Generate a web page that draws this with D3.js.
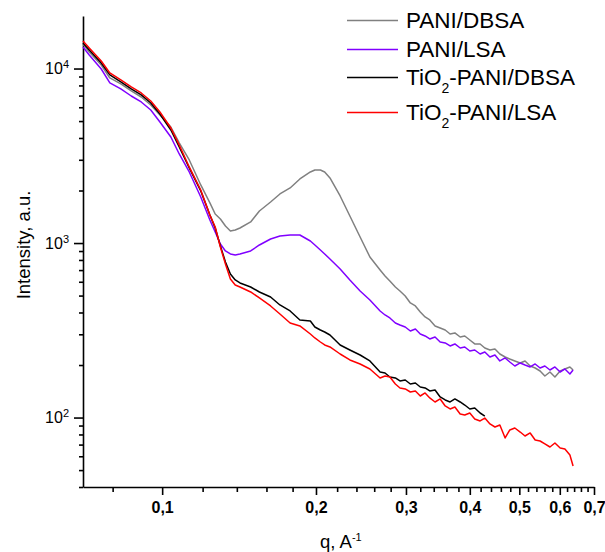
<!DOCTYPE html>
<html>
<head>
<meta charset="utf-8">
<script src="https://cdn.jsdelivr.net/npm/d3@7"></script>
<style>
body { margin: 0; background: #fff; }
svg text { font-family: "Liberation Sans", Arial, sans-serif; fill: #000; }
</style>
</head>
<body>
<div id="chart"></div>
<script>
// q, A^-1
const q = [0.070, 0.072, 0.076, 0.079, 0.083, 0.087, 0.091, 0.095, 0.099, 0.104,
    0.108, 0.113, 0.119, 0.124, 0.127, 0.130, 0.133, 0.136, 0.139, 0.142,
    0.149, 0.155, 0.163, 0.170, 0.178, 0.186, 0.195, 0.199, 0.204, 0.208,
    0.213, 0.223, 0.233, 0.244, 0.255, 0.267, 0.273, 0.279, 0.286, 0.292,
    0.299, 0.306, 0.313, 0.320, 0.327, 0.334, 0.342, 0.350, 0.358, 0.366,
    0.374, 0.383, 0.391, 0.400, 0.409, 0.419, 0.428, 0.438, 0.448, 0.458,
    0.469, 0.479, 0.490, 0.502, 0.513, 0.525, 0.537, 0.549, 0.561, 0.574,
    0.587, 0.601, 0.614, 0.628, 0.637];

const paniDbsa = [13830, 12450, 10480, 8830, 8160, 7440, 6870, 6184, 5419, 4625,
    3750, 2992, 2152, 1700, 1467, 1374, 1252, 1172, 1188, 1220,
    1321, 1527, 1719, 1911, 2068, 2329, 2555, 2623, 2623, 2555,
    2360, 1861, 1429, 1083, 832, 701, 647.5, 606, 560, 531,
    497, 453.5, 436, 402.7, 377, 362.4, 334.9, 326.1, 317.6, 301.2,
    305.3, 289.5, 293.4, 278.3, 264.1, 264.1, 250.4, 243.9, 247.1, 231.3,
    222.3, 216.6, 211, 205.5, 211, 197.5, 192.3, 184.8, 173.1, 182.4,
    170.8, 184.8, 189.8, 194.9, 187.3];

const paniLsa = [13290, 11960, 9940, 8270, 7640, 6960, 6434, 5789, 4942, 4053,
    3239, 2555, 1837, 1356, 1157, 987.7, 900.7, 865.6, 854.3, 865.6,
    900.7, 974.8, 1055, 1097, 1112, 1112, 1027, 974.8, 912.7, 865.6,
    810.5, 710.3, 614.2, 531.2, 471.8, 408.1, 387.1, 372.1, 348.4, 339.3,
    330.4, 313.4, 321.8, 301.2, 293.4, 282, 289.5, 271, 267.6, 257.2,
    264.1, 250.4, 253.8, 240.7, 243.9, 231.3, 237.5, 222.3, 228.3, 211,
    219.5, 208.2, 197.5, 205.5, 200.1, 194.9, 202.8, 192.3, 197.5, 187.3,
    194.9, 182.4, 189.8, 177.7, 187.3];

// black curve stops at q ~ 0.43
const tio2PaniDbsa = [14020, 12780, 10760, 9190, 8380, 7640, 7060, 6350, 5491, 4446,
    3553, 2693, 1988, 1448, 1220, 962, 779, 664.8, 614.2, 590.5,
    560.1, 524.3, 490.8, 441.7, 408.1, 362.4, 357.7, 330.4, 317.6, 309.3,
    297.3, 260.6, 243.9, 228.3, 211, 182.4, 180.1, 170.8, 168.6, 162,
    164.2, 155.7, 157.8, 149.7, 147.8, 142, 143.9, 131.2, 126.1, 122.8,
    127.8, 122.8, 118, 112, 113.5, 106.2, 102];

const tio2PaniLsa = [14390, 13120, 11050, 9430, 8600, 7840, 7245, 6519, 5638, 4565,
    3648, 2729, 2014, 1448, 1236, 949.4, 758.6, 622.4, 575.1, 560.1,
    524.3, 484.4, 435.9, 392.2, 348.4, 334.9, 301.2, 285.8, 271, 260.6,
    253.8, 231.3, 213.8, 202.8, 189.8, 168.6, 173.1, 170.8, 155.7, 147.8,
    145.8, 140.1, 142, 132.9, 138.3, 129.5, 122.8, 127.8, 116.5, 112,
    114.9, 104.8, 103.4, 106.2, 98.1, 95.6, 99.4, 91.9, 88.3, 90.7,
    76.4, 84.9, 87.1, 82.6, 78.4, 81.6, 74.4, 73.4, 70.6, 67.8,
    71.5, 66.9, 66, 61, 52.8];

const seriesNames = ["PANI/DBSA", "PANI/LSA", "TiO2-PANI/DBSA", "TiO2-PANI/LSA"];
const seriesValues = [paniDbsa, paniLsa, tio2PaniDbsa, tio2PaniLsa];
const seriesColors = ["#808080", "#8000ff", "#000000", "#ff0000"];

const xMajorTicks = [0.1, 0.2, 0.3, 0.4, 0.5, 0.6, 0.7];
const xMinorTicks = [0.08, 0.12, 0.14, 0.16, 0.18, 0.22, 0.24, 0.26, 0.28,
    0.32, 0.34, 0.36, 0.38, 0.42, 0.44, 0.46, 0.48, 0.52, 0.54, 0.56, 0.58,
    0.62, 0.64, 0.66, 0.68];
const yMajorTicks = [100, 1000, 10000];
const yMinorTicks = [40, 50, 60, 70, 80, 90, 200, 300, 400, 500, 600, 700, 800, 900,
    2000, 3000, 4000, 5000, 6000, 7000, 8000, 9000];

const width = 605, height = 552;
const plotLeft = 83, plotRight = 594, plotTop = 16, plotBottom = 487;

const svg = d3.select("#chart").append("svg")
    .attr("width", width)
    .attr("height", height);

const xScale = d3.scaleLog().domain([0.07, 0.7]).range([plotLeft, plotRight]);
const yScale = d3.scaleLog().domain([40, 20000]).range([plotBottom, plotTop]);

function styleAxis(g) {
    g.selectAll("line, path").attr("stroke", "#000").attr("stroke-width", 1.6);
}

// minor ticks
svg.append("g")
    .attr("transform", "translate(0," + plotBottom + ")")
    .call(d3.axisBottom(xScale).tickValues(xMinorTicks).tickSize(5).tickSizeOuter(0).tickFormat(""))
    .call(g => g.select(".domain").remove())
    .call(styleAxis);

svg.append("g")
    .attr("transform", "translate(" + plotLeft + ",0)")
    .call(d3.axisLeft(yScale).tickValues(yMinorTicks).tickSize(4).tickSizeOuter(0).tickFormat(""))
    .call(g => g.select(".domain").remove())
    .call(styleAxis);

// major ticks
let xAxisG = svg.append("g")
    .attr("transform", "translate(0," + plotBottom + ")")
    .call(d3.axisBottom(xScale).tickValues(xMajorTicks).tickSize(8).tickSizeOuter(0).tickPadding(7)
        .tickFormat(d => String(d).replace(".", ",")))
    .call(styleAxis);
xAxisG.selectAll("text").attr("font-size", "16px").attr("font-weight", "bold");

let yAxisG = svg.append("g")
    .attr("transform", "translate(" + plotLeft + ",0)")
    .call(d3.axisLeft(yScale).tickValues(yMajorTicks).tickSize(9).tickSizeOuter(0).tickPadding(5)
        .tickFormat(""))
    .call(styleAxis);
yAxisG.selectAll(".tick text").each(function(d) {
    let t = d3.select(this).attr("font-size", "16px");
    t.append("tspan").text("10");
    t.append("tspan").attr("dy", "-0.55em").attr("font-size", "11px").text(Math.round(Math.log10(d)));
});

// axis titles
svg.append("text")
    .attr("transform", "translate(29.5,245) rotate(-90)")
    .attr("text-anchor", "middle")
    .attr("font-size", "18.5px")
    .text("Intensity, a.u.");

let xt = svg.append("text")
    .attr("x", 320)
    .attr("y", 548)
    .attr("font-size", "18.5px")
    .text("q, A");
xt.append("tspan").attr("dy", "-0.6em").attr("font-size", "11px").text("-1");

// curves
let line = d3.line()
    .x(d => xScale(d[0]))
    .y(d => yScale(d[1]));

seriesValues.forEach((vals, i) => {
    let pts = vals.map((v, j) => [q[j], v]);
    svg.append("path")
        .datum(pts)
        .attr("fill", "none")
        .attr("stroke", seriesColors[i])
        .attr("stroke-width", 1.5)
        .attr("stroke-linejoin", "round")
        .attr("d", line);
});

// legend
const legendRowsY = [28, 57, 85, 120];
seriesNames.forEach((name, i) => {
    let y = legendRowsY[i];
    svg.append("line")
        .attr("x1", 347).attr("x2", 398)
        .attr("y1", y - 7.5).attr("y2", y - 7.5)
        .attr("stroke", seriesColors[i])
        .attr("stroke-width", 1.3);
    let t = svg.append("text")
        .attr("x", 406)
        .attr("y", y)
        .attr("font-size", "22.5px");
    if (name.startsWith("TiO2")) {
        t.append("tspan").text("TiO");
        t.append("tspan").attr("font-size", "14px").attr("dy", "8").text("2");
        t.append("tspan").attr("dy", "-8").text(name.slice(4));
    } else {
        t.text(name);
    }
});
</script>
</body>
</html>
